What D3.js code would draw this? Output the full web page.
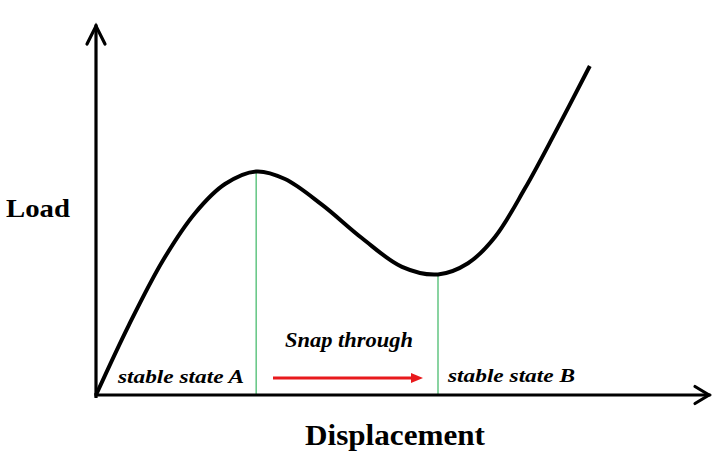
<!DOCTYPE html>
<html>
<head>
<meta charset="utf-8">
<script src="https://cdn.jsdelivr.net/npm/d3@7"></script>
<style>
  html, body { margin: 0; padding: 0; background: #fff; }
  svg { display: block; }
</style>
</head>
<body>
<svg id="chart" width="714" height="454"></svg>
<script>
// ---- data (displacement, load) in arbitrary units ----
const displacement = [0, 5.5, 11.2, 16.5, 21.5, 26.7, 31.5, 37.7, 44.3, 51.0, 57.0, 62.0, 66.5, 71.5, 76.5, 82.3];
const load         = [0, 19.5, 37.5, 50.5, 58.6, 62.1, 60.0, 52.8, 43.6, 35.6, 33.5, 36.6, 43.9, 57.4, 72.8, 91.4];
const stableStates = [26.7, 57.0];          // displacement of the two stable states (peak & valley)
const stableLoads  = [62.1, 33.5];
const snapArrow    = [29.5, 54.5];          // displacement range of the snap-through arrow
const snapArrowLoad = 4.7;
const axisLabels = { x: "Displacement", y: "Load" };
const annotations = ["stable state A", "Snap through", "stable state B"];

const svg = d3.select("#chart");
const x = d3.scaleLinear().domain([0, 100]).range([96, 696]);
const y = d3.scaleLinear().domain([0, 100]).range([395, 35]);

// ---- green vertical guides ----
svg.selectAll("line.guide").data(stableStates).enter().append("line")
  .attr("class", "guide")
  .attr("x1", d => x(d)).attr("x2", d => x(d))
  .attr("y1", (d, i) => y(stableLoads[i])).attr("y2", y(0))
  .attr("stroke", "#6cc98a").attr("stroke-width", 1.6);

// ---- curve ----
const pts = displacement.map((d, i) => [d, load[i]]);
const line = d3.line().x(d => x(d[0])).y(d => y(d[1])).curve(d3.curveCatmullRom.alpha(0.5));
svg.append("path").datum(pts)
  .attr("d", line)
  .attr("fill", "none").attr("stroke", "#000").attr("stroke-width", 4)
  .attr("stroke-linecap", "butt").attr("stroke-linejoin", "round");

// ---- axes with open arrowheads ----
const axisG = svg.append("g").attr("stroke", "#000").attr("stroke-width", 3.2).attr("fill", "none")
  .attr("stroke-linecap", "square");
axisG.append("line").attr("x1", x(0)).attr("y1", y(0)).attr("x2", 709).attr("y2", y(0));
axisG.append("line").attr("x1", x(0)).attr("y1", y(0) + 1.5).attr("x2", x(0)).attr("y2", 26);
axisG.append("path").attr("stroke-linecap", "round").attr("stroke-linejoin", "miter")
  .attr("d", `M695,${y(0) - 8.5} L709,${y(0)} L695,${y(0) + 8.5}`);
axisG.append("path").attr("stroke-linecap", "round").attr("stroke-linejoin", "miter")
  .attr("d", `M${x(0) - 9},44 L${x(0)},26 L${x(0) + 9},44`);

// ---- red snap-through arrow ----
const ay = y(snapArrowLoad);
svg.append("line")
  .attr("x1", x(snapArrow[0])).attr("x2", x(snapArrow[1]) - 10)
  .attr("y1", ay).attr("y2", ay)
  .attr("stroke", "#e8191c").attr("stroke-width", 3);
svg.append("path")
  .attr("d", `M${x(snapArrow[1]) - 12},${ay - 5} L${x(snapArrow[1])},${ay} L${x(snapArrow[1]) - 12},${ay + 5} Z`)
  .attr("fill", "#e8191c");

// ---- text ----
const serif = "'Liberation Serif', 'Times New Roman', serif";
function label(txt, xx, yy, size, len, italic) {
  svg.append("text").text(txt)
    .attr("x", xx).attr("y", yy)
    .attr("font-family", serif).attr("font-weight", "bold")
    .attr("font-style", italic ? "italic" : "normal")
    .attr("font-size", size)
    .attr("textLength", len).attr("lengthAdjust", "spacingAndGlyphs")
    .attr("fill", "#000");
}
label(annotations[0], 118, 383, 18, 126, true);
label(annotations[1], 285, 347, 20, 128, true);
label(annotations[2], 448, 382, 18, 127, true);
label(axisLabels.y, 6, 217, 25, 64, false);
label(axisLabels.x, 305, 445, 29, 180, false);
</script>
</body>
</html>
